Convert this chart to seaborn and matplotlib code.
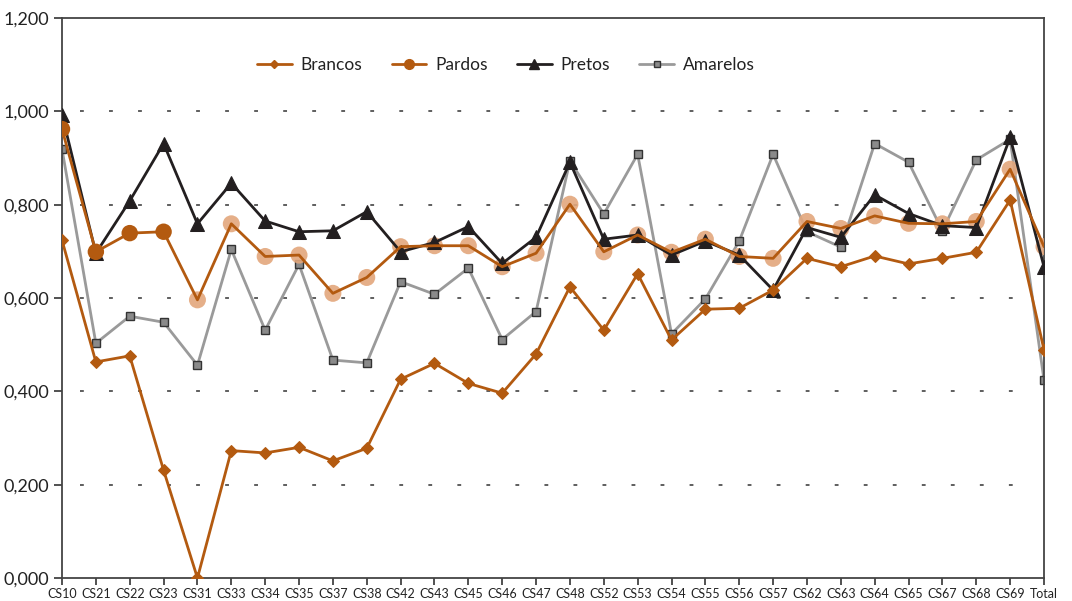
import matplotlib
matplotlib.use("Agg")
import matplotlib.pyplot as plt
from matplotlib.lines import Line2D
from matplotlib.ticker import FuncFormatter, MultipleLocator
import seaborn as sns
import pandas as pd

categories = ["CS10", "CS21", "CS22", "CS23", "CS31", "CS33", "CS34", "CS35", "CS37", "CS38",
              "CS42", "CS43", "CS45", "CS46", "CS47", "CS48", "CS52", "CS53", "CS54", "CS55",
              "CS56", "CS57", "CS62", "CS63", "CS64", "CS65", "CS67", "CS68", "CS69", "Total"]

brancos = [0.724, 0.463, 0.476, 0.231, 0.000, 0.273, 0.268, 0.280, 0.251, 0.278,
           0.426, 0.460, 0.417, 0.396, 0.480, 0.624, 0.531, 0.652, 0.510, 0.576,
           0.578, 0.617, 0.685, 0.667, 0.690, 0.673, 0.685, 0.698, 0.810, 0.489]

pardos = [0.962, 0.699, 0.739, 0.742, 0.596, 0.759, 0.689, 0.692, 0.610, 0.644,
          0.710, 0.712, 0.712, 0.667, 0.696, 0.801, 0.699, 0.735, 0.698, 0.726,
          0.689, 0.685, 0.764, 0.749, 0.776, 0.760, 0.759, 0.764, 0.876, 0.710]
# first four Pardos points drawn solid, the rest light
pardos_solid = [True, True, True, True] + [False] * 26

pretos = [0.993, 0.696, 0.808, 0.931, 0.759, 0.846, 0.765, 0.742, 0.744, 0.785,
          0.699, 0.719, 0.753, 0.674, 0.730, 0.891, 0.726, 0.735, 0.692, 0.722,
          0.692, 0.617, 0.751, 0.730, 0.821, 0.781, 0.755, 0.751, 0.944, 0.667]

amarelos = [0.919, 0.503, 0.561, 0.548, 0.456, 0.704, 0.531, 0.672, 0.467, 0.461,
            0.635, 0.608, 0.664, 0.511, 0.571, 0.894, 0.780, 0.908, 0.523, 0.598,
            0.722, 0.908, 0.742, 0.709, 0.931, 0.891, 0.744, 0.896, 0.940, 0.424]

ORANGE = "#b35a10"
LIGHT = "#e3a77c"
BLACK = "#231f20"
GRAY = "#9a9a9a"
SQFACE = "#8a8a8a"

sns.set_style("white")
plt.rcParams["font.family"] = ["Lato", "DejaVu Sans"]

fig = plt.figure(figsize=(10.72, 6.01), dpi=100)
ax = fig.add_axes([62 / 1072, 1 - 578 / 601, (1044 - 62) / 1072, (578 - 18) / 601])

df = pd.DataFrame({"cat": categories, "Brancos": brancos, "Pardos": pardos,
                   "Pretos": pretos, "Amarelos": amarelos, "solid": pardos_solid})
df["pos"] = range(len(categories))

lw = 2.0
# Amarelos
sns.lineplot(data=df, x="pos", y="Amarelos", ax=ax, color=GRAY, lw=lw, marker="s",
             markersize=6, markerfacecolor=SQFACE, markeredgecolor="#333333",
             markeredgewidth=1.0, zorder=2, sort=False)
# Pardos light markers beneath
light = df[~df["solid"]]
sns.scatterplot(data=light, x="pos", y="Pardos", ax=ax, color=LIGHT, s=150,
                edgecolor="none", alpha=0.9, zorder=3)
# Pretos
sns.lineplot(data=df, x="pos", y="Pretos", ax=ax, color=BLACK, lw=lw, marker="^",
             markersize=10, markeredgecolor=BLACK, zorder=4, sort=False)
# Pardos line
sns.lineplot(data=df, x="pos", y="Pardos", ax=ax, color=ORANGE, lw=lw, zorder=5, sort=False)
solid = df[df["solid"]]
sns.scatterplot(data=solid, x="pos", y="Pardos", ax=ax, color=ORANGE, s=140,
                edgecolor="none", zorder=6)
# Brancos
sns.lineplot(data=df, x="pos", y="Brancos", ax=ax, color=ORANGE, lw=lw, marker="D",
             markersize=6, markeredgecolor=ORANGE, zorder=7, sort=False)

ax.set_xlim(0, len(categories) - 1)
ax.set_ylim(0, 1.2)
ax.set_xticks(range(len(categories)))
ax.set_xticklabels(categories, fontsize=9, color="#222222")
ax.yaxis.set_major_locator(MultipleLocator(0.2))
ax.yaxis.set_major_formatter(FuncFormatter(lambda v, p: f"{v:.3f}".replace(".", ",")))
ax.tick_params(axis="y", labelsize=13, length=6, width=1.2, direction="out",
               colors="#333333", labelcolor="#222222", left=True, pad=3)
ax.tick_params(axis="x", length=5, width=1.2, direction="out", colors="#333333",
               labelcolor="#222222", bottom=True, pad=2)
ax.set_xlabel("")
ax.set_ylabel("")

for s in ax.spines.values():
    s.set_color("#444444")
    s.set_linewidth(1.3)

for yv in [0.2, 0.4, 0.6, 0.8, 1.0]:
    ax.axhline(yv, xmin=0.018, xmax=0.988, color="#333333", lw=1.1,
               linestyle=(0, (2.5, 16.5)), zorder=1)

handles = [
    Line2D([], [], color=ORANGE, lw=lw, marker="D", markersize=4, markeredgecolor=ORANGE),
    Line2D([], [], color=ORANGE, lw=lw, marker="o", markersize=7, markeredgecolor=ORANGE),
    Line2D([], [], color=BLACK, lw=lw, marker="^", markersize=7, markeredgecolor=BLACK),
    Line2D([], [], color=GRAY, lw=lw, marker="s", markersize=4.5, markerfacecolor=SQFACE,
           markeredgecolor="#333333", markeredgewidth=1.0),
]
leg = ax.legend(handles, ["Brancos", "Pardos", "Pretos", "Amarelos"], ncol=4,
                loc="center", bbox_to_anchor=(0.452, 0.916), frameon=False,
                fontsize=12.5, handlelength=2.0, handletextpad=0.5, columnspacing=1.7)
for t in leg.get_texts():
    t.set_color("#222222")

fig.savefig("out.png", dpi=100)
